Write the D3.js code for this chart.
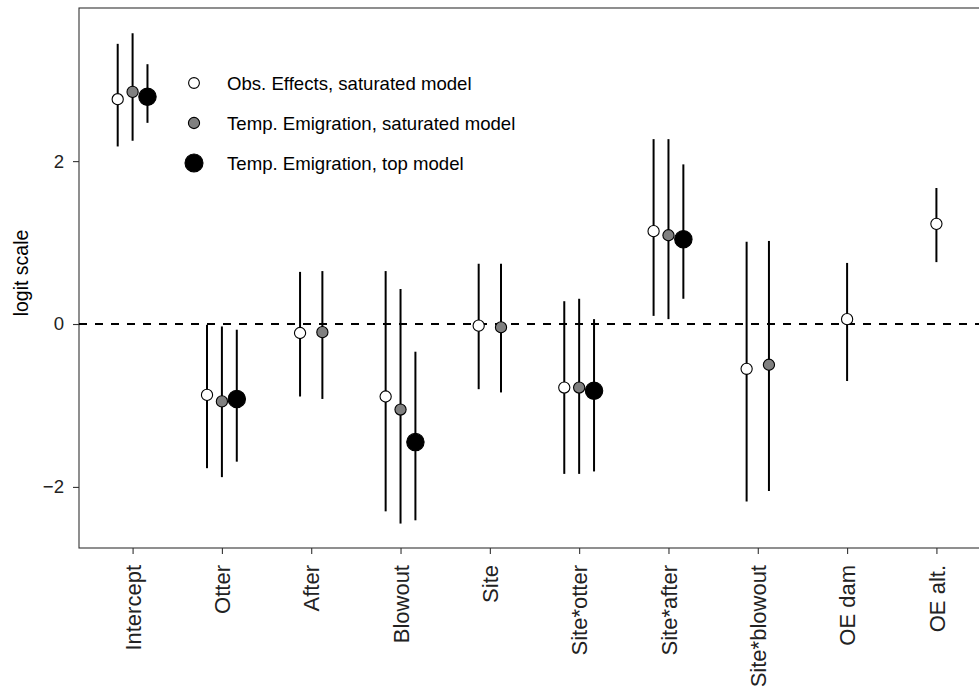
<!DOCTYPE html>
<html>
<head>
<meta charset="utf-8">
<script src="https://cdn.jsdelivr.net/npm/d3@7"></script>
<style>
  body{margin:0;background:#fff;}
  svg{display:block;font-family:Arial,"Liberation Sans",sans-serif;}
</style>
</head>
<body>
<svg id="chart" width="979" height="692"></svg>
<script>
// categories (x axis)
const categories = ['Intercept','Otter','After','Blowout','Site','Site*otter','Site*after','Site*blowout','OE dam','OE alt.'];

// series: estimate, lower, upper (null = not in model)
const seriesNames = ['Obs. Effects, saturated model','Temp. Emigration, saturated model','Temp. Emigration, top model'];

const obsEst = [2.76, -0.87, -0.11, -0.89, -0.02, -0.78, 1.14, -0.55, 0.06, 1.23];
const obsLo  = [2.18, -1.77, -0.89, -2.30, -0.80, -1.84, 0.10, -2.18, -0.70, 0.76];
const obsHi  = [3.44, -0.01,  0.64,  0.65,  0.74,  0.28, 2.27,  1.01,  0.75, 1.67];

const teSatEst = [2.85, -0.95, -0.10, -1.05, -0.04, -0.78, 1.09, -0.50, null, null];
const teSatLo  = [2.25, -1.88, -0.92, -2.45, -0.84, -1.84, 0.06, -2.05, null, null];
const teSatHi  = [3.57, -0.03,  0.65,  0.43,  0.74,  0.31, 2.27,  1.02, null, null];

const teTopEst = [2.79, -0.92, null, -1.45, null, -0.82, 1.04, null, null, null];
const teTopLo  = [2.47, -1.69, null, -2.41, null, -1.81, 0.31, null, null, null];
const teTopHi  = [3.19, -0.07, null, -0.34, null,  0.06, 1.96, null, null, null];

const yTicks = [-2, 0, 2];

// styles per series
const fills = ['#ffffff', '#808080', '#000000'];
const radii = [5.6, 5.6, 8.7];
const legendRadii = [5.4, 5.6, 9];

const svg = d3.select('#chart');
const m = {left:79, top:8, right:990, bottom:548}; // panel runs past the right edge (clipped like the original)

const x = d3.scalePoint().domain(categories).range([m.left, m.right]).padding(0.6);
const y = d3.scaleLinear().domain([-2.75, 3.88]).range([m.bottom, m.top]);
const dodgeW = 0.5 * x.step();

// build rows, dodging only the series present at each category
const est = [obsEst, teSatEst, teTopEst], lo = [obsLo, teSatLo, teTopLo], hi = [obsHi, teSatHi, teTopHi];
const rows = [];
categories.forEach((c, i) => {
  const present = [0,1,2].filter(s => est[s][i] != null);
  const n = present.length;
  present.forEach((s, k) => {
    const off = n === 1 ? 0 : (-dodgeW/2 + dodgeW/n*(k+0.5));
    rows.push({cat:c, s, est:est[s][i], lo:lo[s][i], hi:hi[s][i], px:x(c)+off});
  });
});

// panel border
svg.append('rect')
  .attr('x', m.left).attr('y', m.top)
  .attr('width', m.right - m.left).attr('height', m.bottom - m.top)
  .attr('fill', 'none').attr('stroke', '#333').attr('stroke-width', 1.1);

// zero line
svg.append('line')
  .attr('x1', m.left).attr('x2', m.right)
  .attr('y1', y(0)).attr('y2', y(0))
  .attr('stroke', '#000').attr('stroke-width', 2)
  .attr('stroke-dasharray', '8,8');

// error bars
svg.append('g').selectAll('line').data(rows).enter().append('line')
  .attr('x1', d => d.px).attr('x2', d => d.px)
  .attr('y1', d => y(d.lo)).attr('y2', d => y(d.hi))
  .attr('stroke', '#000').attr('stroke-width', 2);

// points
svg.append('g').selectAll('circle').data(rows).enter().append('circle')
  .attr('cx', d => d.px).attr('cy', d => y(d.est))
  .attr('r', d => radii[d.s])
  .attr('fill', d => fills[d.s])
  .attr('stroke', '#000').attr('stroke-width', 1.1);

// y axis
const yAxis = svg.append('g')
  .attr('transform', `translate(${m.left},0)`)
  .call(d3.axisLeft(y).tickValues(yTicks).tickFormat(d3.format('d')).tickSize(6).tickPadding(9));
yAxis.select('.domain').remove();
yAxis.selectAll('.tick line').attr('stroke', '#333').attr('stroke-width', 1.1);
yAxis.selectAll('.tick text').attr('fill', '#222').style('font-size', '18.6px')
  .style('font-family', 'Arial,"Liberation Sans",sans-serif');

// x axis
const xAxis = svg.append('g')
  .attr('transform', `translate(0,${m.bottom})`)
  .call(d3.axisBottom(x).tickSize(6).tickPadding(5));
xAxis.select('.domain').remove();
xAxis.selectAll('.tick line').attr('stroke', '#333').attr('stroke-width', 1.1);
xAxis.selectAll('.tick text')
  .attr('fill', '#222').style('font-size', '22px')
  .style('font-family', 'Arial,"Liberation Sans",sans-serif')
  .attr('transform', 'rotate(-90)')
  .attr('text-anchor', 'end')
  .attr('x', -17).attr('y', 0).attr('dy', '0.35em');

// y title
svg.append('text')
  .attr('transform', `translate(28,${(m.top + m.bottom)/2 - 5}) rotate(-90)`)
  .attr('text-anchor', 'middle')
  .style('font-size', '19.5px').attr('fill', '#000')
  .text('logit scale');

// legend
const leg = svg.append('g').attr('transform', 'translate(194,83)');
seriesNames.forEach((name, i) => {
  const g = leg.append('g').attr('transform', `translate(0,${i*40})`);
  g.append('circle').attr('r', legendRadii[i]).attr('fill', fills[i])
    .attr('stroke', '#000').attr('stroke-width', 1.1);
  g.append('text').attr('x', 33).attr('dy', '0.35em')
    .style('font-size', '18.6px').attr('fill', '#000').text(name);
});
</script>
</body>
</html>
